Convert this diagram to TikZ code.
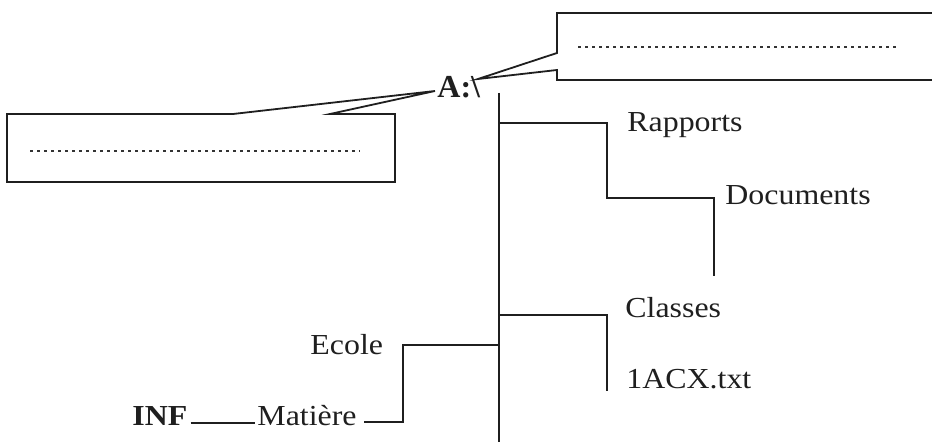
\documentclass[tikz,border=0pt]{standalone}
\usepackage{fontspec}
\usepackage{graphicx}
\setmainfont{Liberation Serif}
\newcommand\widetxt[1]{\scalebox{1.1}[1]{#1}}
\begin{document}
\begin{tikzpicture}[x=0.5pt,y=-0.5pt,
  lbl/.style={anchor=base west, inner sep=0pt, text=black!88,
              font=\fontsize{14.5}{17}\selectfont},
  ln/.style={line width=0.9pt, draw=black!88, line join=miter},
  dotline/.style={line width=1.3pt, draw=black!80, dash pattern=on 1.4pt off 2.1pt}]
\useasboundingbox (0,0) rectangle (932,442);
\clip (0,0) rectangle (932,442);

% labels
\node[lbl, font=\fontsize{16}{19}\selectfont\bfseries] (A) at (437,98) {A:\textbackslash};
\node[lbl] (rap) at (627,132) {\widetxt{Rapports}};
\node[lbl] (doc) at (725,205) {\widetxt{Documents}};
\node[lbl] (cla) at (625,318) {\widetxt{Classes}};
\node[lbl] (acx) at (626,389) {\widetxt{1ACX.txt}};
\node[lbl] (eco) at (310,355) {\widetxt{Ecole}};
\node[lbl] (mat) at (257,426) {\widetxt{Matière}};
\node[lbl, font=\fontsize{14.5}{17}\selectfont\bfseries] (inf) at (132,426) {\widetxt{INF}};

% key coordinates
\coordinate (tipR) at (478,79);
\coordinate (tipL) at (435,91);
\coordinate (trunkTop) at (499,93);
\coordinate (trunkBot) at (499,450);
\coordinate (docEnd) at (714,276);
\coordinate (acxEnd) at (607,391);

% callout boxes
\draw[ln] (945,13) -- (557,13) -- (557,53) -- (tipR) -- (557,70) -- (557,80) -- (945,80);
\draw[dotline] (578,47) -- (898,47);
\draw[ln] (330,114) -- (395,114) -- (395,182) -- (7,182) -- (7,114) -- (233,114) -- (tipL) -- cycle;
\draw[dotline] (30,151) -- (360,151);

% tree
\draw[ln] (trunkTop) -- (trunkBot);
\draw[ln] (trunkTop |- 0,123) -- (607,123) -- (607,198) -- (714,198) -- (docEnd);
\draw[ln] (trunkTop |- 0,315) -- (607,315) -- (acxEnd);
\draw[ln] (trunkTop |- 0,345) -- (403,345) -- (403,422) -- ([xshift=3.5pt,yshift=2pt]mat.base east);
\draw[ln] ([xshift=1.5pt,yshift=1.5pt]inf.base east) -- ([xshift=-1pt,yshift=1.5pt]mat.base west);
\end{tikzpicture}
\end{document}
